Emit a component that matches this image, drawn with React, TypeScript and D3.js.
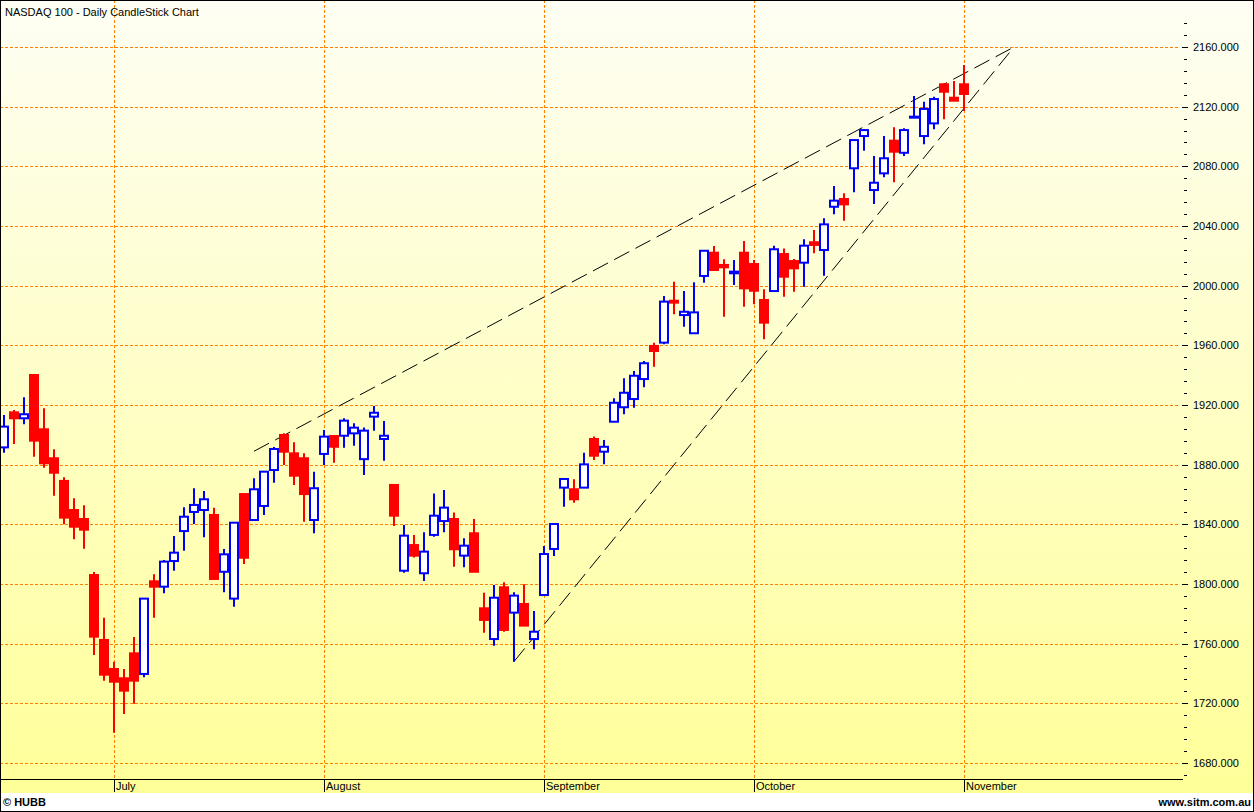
import React from 'react';
import * as d3 from 'd3';

// Daily OHLC, 16 Jun 2010 .. 1 Nov 2010
const opens = [
  1891.6, 1915.1, 1911.1, 1940.1, 1903.7, 1884.3, 1869.1, 1849.6, 1843.6, 1806.0,
  1762.5, 1743.0, 1736.8, 1753.5, 1739.7, 1801.8, 1798.2, 1815.4, 1835.5, 1848.3,
  1849.6, 1846.3, 1808.2, 1790.2, 1860.3, 1842.9, 1852.3, 1876.4, 1899.9, 1887.6,
  1884.3, 1842.9, 1887.2, 1899.2, 1899.4, 1901.0, 1883.7, 1912.2, 1897.2, 1866.4,
  1808.9, 1826.1, 1807.2, 1832.9, 1842.2, 1843.6, 1819.0, 1834.0, 1783.7, 1763.1,
  1797.8, 1780.8, 1786.6, 1763.1, 1792.6, 1823.5, 1864.6, 1863.5, 1864.6, 1897.2,
  1888.7, 1908.8, 1918.5, 1924.0, 1937.4, 1959.6, 1961.8, 1989.9, 1980.3, 1968.1,
  2006.5, 2022.1, 2013.9, 2008.3, 2022.1, 2014.5, 1990.4, 1996.4, 2021.2, 2016.5,
  2015.4, 2029.1, 2023.9, 2052.9, 2058.1, 2078.7, 2100.3, 2064.1, 2075.3, 2097.2,
  2089.1, 2112.6, 2100.3, 2108.8, 2135.0, 2126.0, 2135.0,
];
const highs = [
  1913.3, 1916.6, 1925.2, 1940.1, 1917.8, 1890.3, 1871.5, 1857.5, 1852.8, 1808.0,
  1777.4, 1747.9, 1743.0, 1764.5, 1790.2, 1806.5, 1816.1, 1832.2, 1851.4, 1864.2,
  1862.3, 1851.1, 1823.5, 1841.1, 1860.3, 1870.9, 1875.3, 1891.8, 1901.0, 1895.0,
  1887.6, 1875.3, 1903.2, 1899.2, 1911.1, 1907.7, 1905.0, 1919.3, 1909.3, 1866.4,
  1839.6, 1832.9, 1834.7, 1860.7, 1863.0, 1848.0, 1830.6, 1843.6, 1794.2, 1799.3,
  1801.1, 1794.5, 1799.8, 1781.9, 1825.5, 1840.2, 1870.4, 1870.2, 1888.0, 1898.8,
  1896.5, 1924.5, 1937.9, 1942.8, 1949.5, 1961.8, 1993.1, 2002.7, 1996.4, 2002.3,
  2023.4, 2026.6, 2017.7, 2017.2, 2029.9, 2017.2, 1997.6, 2026.8, 2025.0, 2017.9,
  2031.1, 2037.3, 2045.2, 2066.8, 2061.9, 2097.6, 2105.0, 2086.9, 2100.3, 2106.2,
  2105.5, 2127.2, 2123.3, 2126.6, 2135.7, 2137.2, 2147.9,
];
const lows = [
  1888.0, 1893.9, 1907.1, 1885.3, 1878.0, 1859.2, 1840.0, 1830.0, 1823.7, 1752.4,
  1735.2, 1700.3, 1712.9, 1719.8, 1737.5, 1777.4, 1793.8, 1808.9, 1822.3, 1840.2,
  1831.3, 1802.7, 1794.5, 1784.8, 1813.4, 1842.9, 1846.3, 1867.9, 1879.8, 1866.4,
  1841.8, 1834.0, 1879.8, 1881.3, 1891.4, 1892.7, 1873.1, 1902.8, 1882.7, 1838.9,
  1807.6, 1817.8, 1802.0, 1831.7, 1834.7, 1811.6, 1811.2, 1808.2, 1767.4, 1758.6,
  1768.0, 1747.9, 1772.1, 1756.2, 1792.6, 1818.8, 1851.8, 1854.5, 1864.6, 1883.1,
  1880.2, 1908.4, 1913.8, 1918.2, 1931.9, 1945.7, 1960.7, 1980.8, 1972.5, 1968.1,
  2002.0, 2009.8, 1979.2, 2000.4, 1985.9, 1987.5, 1964.0, 1996.4, 1992.6, 1996.0,
  1999.3, 2021.7, 2006.7, 2047.8, 2043.5, 2062.6, 2090.5, 2054.8, 2072.6, 2069.3,
  2086.9, 2112.6, 2094.8, 2104.8, 2111.5, 2124.0, 2117.1,
];
const closes = [
  1905.5, 1911.1, 1913.8, 1896.1, 1880.9, 1874.6, 1844.5, 1838.4, 1836.4, 1764.7,
  1739.2, 1734.5, 1728.5, 1735.2, 1790.2, 1798.2, 1815.0, 1821.0, 1845.1, 1853.0,
  1856.8, 1803.4, 1819.9, 1841.1, 1817.6, 1863.5, 1875.3, 1890.5, 1888.7, 1872.6,
  1860.3, 1864.2, 1898.8, 1892.0, 1909.5, 1904.8, 1902.8, 1914.8, 1899.4, 1845.8,
  1832.4, 1819.0, 1821.7, 1845.8, 1851.2, 1823.3, 1825.7, 1808.2, 1775.9, 1790.8,
  1769.2, 1792.2, 1772.1, 1768.0, 1820.1, 1840.2, 1870.4, 1856.8, 1880.2, 1886.0,
  1892.0, 1921.5, 1928.2, 1939.6, 1948.0, 1956.2, 1989.3, 1988.6, 1982.5, 1982.1,
  2023.4, 2010.5, 2012.3, 2009.4, 1998.2, 1996.6, 1975.2, 2024.4, 2006.0, 2011.6,
  2026.8, 2027.3, 2041.1, 2057.0, 2054.5, 2097.6, 2104.3, 2069.0, 2085.4, 2089.8,
  2104.3, 2113.3, 2118.5, 2125.1, 2130.0, 2124.0, 2128.5,
];

const monthNames = ['July', 'August', 'September', 'October', 'November'];
const monthStarts = [11, 32, 54, 75, 96];

const priceTicks = d3.range(1680, 2161, 40);
const minorTicks = d3.range(1672, 2177, 8);

// trend lines: [day index, price]
const upperTrend: [number, number][] = [[25, 1889], [101, 2160]];
const lowerTrend: [number, number][] = [[51, 1748], [101, 2160]];

const W = 1254;
const H = 812;
const plotRight = 1183;
const plotBottom = 779;
const FONT = '"Liberation Sans", Arial, sans-serif';

export default function App() {
  const x = d3.scaleLinear().domain([0, 96]).range([4, 964]);
  const y = d3.scaleLinear().domain([1680, 2160]).range([763, 47]);
  const line = d3
    .line<[number, number]>()
    .x((d) => x(d[0]))
    .y((d) => y(d[1]));

  const candles = opens.map((o, i) => ({
    i,
    o,
    h: highs[i],
    l: lows[i],
    c: closes[i],
  }));

  return (
    <svg
      width={W}
      height={H}
      style={{ position: 'absolute', left: 0, top: 0, display: 'block' }}
      fontFamily={FONT}
    >
      <defs>
        <linearGradient id="bg" x1="0" y1="0" x2="0" y2="1">
          <stop offset="0%" stopColor="#FEFEF4" />
          <stop offset="100%" stopColor="#FFFF99" />
        </linearGradient>
        <clipPath id="plotClip">
          <rect x={0} y={0} width={plotRight} height={plotBottom} />
        </clipPath>
      </defs>

      <rect x={0} y={0} width={W} height={H} fill="#ffffff" />
      <rect x={0} y={0} width={W} height={793} fill="url(#bg)" />

      {/* horizontal grid */}
      {priceTicks.map((t) => (
        <line
          key={'g' + t}
          x1={0}
          x2={plotRight - 3}
          y1={Math.round(y(t)) + 0.5}
          y2={Math.round(y(t)) + 0.5}
          stroke="#FF8000"
          strokeDasharray="3,2"
        />
      ))}
      {/* vertical month grid */}
      {monthStarts.map((m) => (
        <line
          key={'v' + m}
          x1={x(m) + 0.5}
          x2={x(m) + 0.5}
          y1={0}
          y2={plotBottom}
          stroke="#FF8000"
          strokeDasharray="3,2"
        />
      ))}

      <text x={5} y={16} fontSize={11} fill="#000">
        NASDAQ 100 - Daily CandleStick Chart
      </text>

      {/* trend lines */}
      <g clipPath="url(#plotClip)">
        <path d={line(upperTrend) || ''} fill="none" stroke="#000" strokeWidth={1} strokeDasharray="17,7" />
        <path d={line(lowerTrend) || ''} fill="none" stroke="#000" strokeWidth={1} strokeDasharray="17,7" />
      </g>

      {/* candles */}
      <g clipPath="url(#plotClip)">
        {candles.map((d) => {
          const cx = x(d.i);
          const up = d.c >= d.o;
          const top = y(Math.max(d.o, d.c));
          const bot = y(Math.min(d.o, d.c));
          if (up) {
            return (
              <g key={d.i}>
                <line x1={cx} x2={cx} y1={y(d.h)} y2={y(d.l)} stroke="#0000FF" strokeWidth={2} />
                <rect
                  x={cx - 4}
                  y={top}
                  width={8}
                  height={Math.max(bot - top, 1)}
                  fill="#ffffff"
                  stroke="#0000FF"
                  strokeWidth={2}
                />
              </g>
            );
          }
          return (
            <g key={d.i}>
              <line x1={cx} x2={cx} y1={y(d.h)} y2={y(d.l)} stroke="#FF0000" strokeWidth={2} />
              <rect
                x={cx - 5}
                y={top - 1}
                width={10}
                height={Math.max(bot - top + 2, 3)}
                fill="#FF0000"
              />
            </g>
          );
        })}
      </g>

      {/* right axis */}
      {minorTicks.map((t) => (
        <line
          key={'m' + t}
          x1={plotRight + 1}
          x2={plotRight + 4}
          y1={Math.round(y(t)) + 0.5}
          y2={Math.round(y(t)) + 0.5}
          stroke="#000"
        />
      ))}
      {priceTicks.map((t) => (
        <g key={'t' + t}>
          <line
            x1={plotRight - 1}
            x2={plotRight + 5}
            y1={Math.round(y(t)) + 0.5}
            y2={Math.round(y(t)) + 0.5}
            stroke="#000"
          />
          <text x={plotRight + 10} y={y(t) + 4} fontSize={11} fill="#000">
            {d3.format('.3f')(t)}
          </text>
        </g>
      ))}

      {/* x axis band */}
      <line x1={0} x2={plotRight} y1={plotBottom + 0.5} y2={plotBottom + 0.5} stroke="#000" />
      {monthStarts.map((m, k) => (
        <g key={'ml' + m}>
          <line x1={x(m) + 0.5} x2={x(m) + 0.5} y1={plotBottom} y2={792} stroke="#000" />
          <text x={x(m) + 2} y={790} fontSize={11} fill="#000">
            {monthNames[k]}
          </text>
        </g>
      ))}

      {/* footer */}
      <text x={3} y={806} fontSize={11} fontWeight="bold" fill="#000">
        © HUBB
      </text>
      <text x={1251} y={806} fontSize={11} fontWeight="bold" fill="#000" textAnchor="end">
        www.sitm.com.au
      </text>

      <rect x={0.5} y={0.5} width={W - 1} height={H - 1} fill="none" stroke="#000" />
    </svg>
  );
}
